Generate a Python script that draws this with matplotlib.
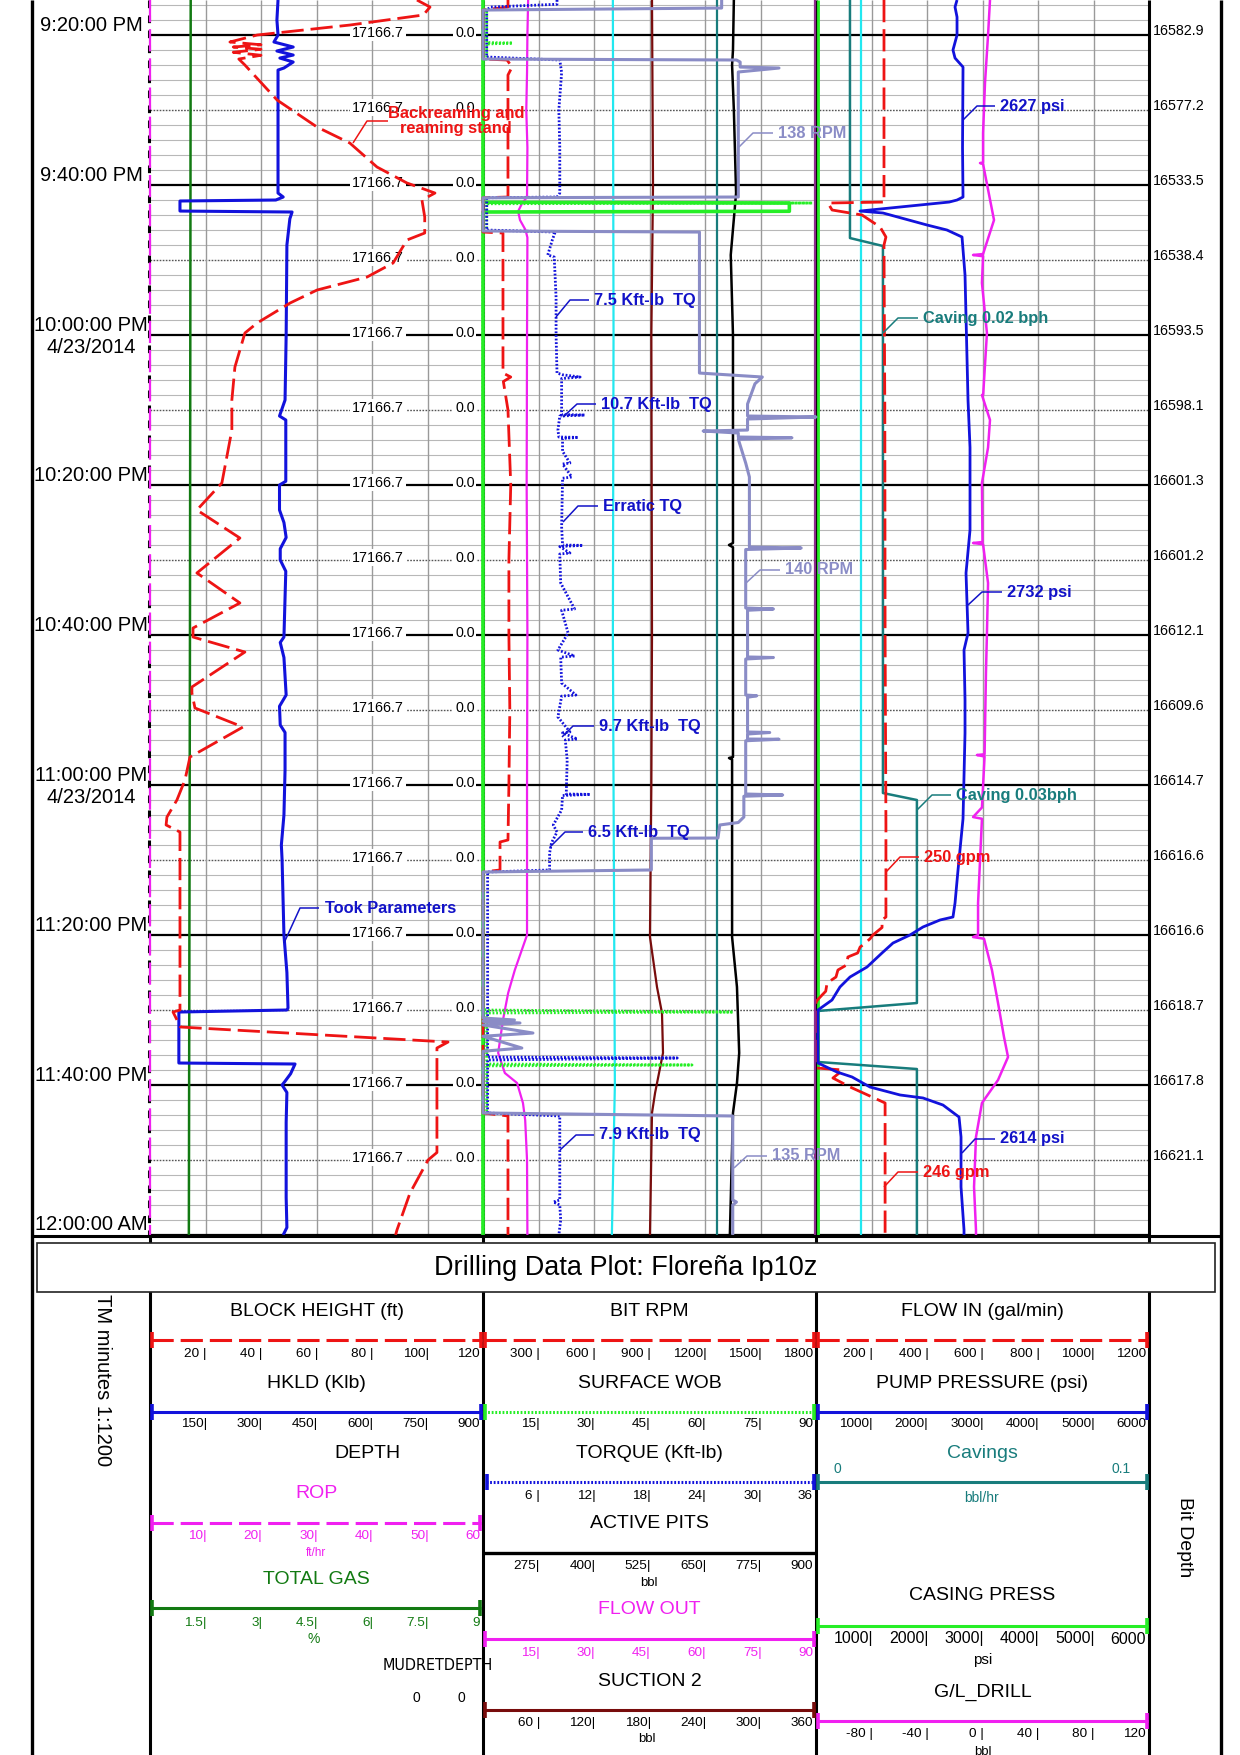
import matplotlib
matplotlib.use('Agg')
import matplotlib.pyplot as plt
from matplotlib.patches import Rectangle

plt.rcParams['font.family'] = ['Liberation Sans', 'DejaVu Sans']
plt.rcParams['lines.scale_dashes'] = False
plt.rcParams['lines.solid_capstyle'] = 'butt'

# ---------------- data: time = minutes after 9:00 PM (4/23/2014) ----------------
T_TOP, T_BOT = 15.33, 180.0

TIME_TICKS = [20, 40, 60, 80, 100, 120, 140, 160, 180]
TIME_LABELS = ['9:20:00 PM', '9:40:00 PM', '10:00:00 PM', '10:20:00 PM', '10:40:00 PM',
               '11:00:00 PM', '11:20:00 PM', '11:40:00 PM', '12:00:00 AM']
DATE_TICKS = [60, 120]
DATE_LABEL = '4/23/2014'

DEPTH_TICKS = [20, 30, 40, 50, 60, 70, 80, 90, 100, 110, 120, 130, 140, 150, 160, 170]
DEPTH_VALUES = ['17166.7'] * 16
MUDRET_VALUES = ['0.0'] * 16
BIT_DEPTH = ['16582.9', '16577.2', '16533.5', '16538.4', '16593.5', '16598.1', '16601.3', '16601.2',
             '16612.1', '16609.6', '16614.7', '16616.6', '16616.6', '16618.7', '16617.8', '16621.1']

# Track 1
HKLD_KLB = [(15.33, 346), (18.0, 343), (20.0, 346), (20.93, 335), (21.6, 387), (22.13, 343), (22.67, 387),
            (23.07, 351), (23.6, 387), (24.4, 362), (24.67, 346), (33.0, 346), (41.07, 346), (41.6, 360),
            (42.0, 340), (42.13, 81), (43.47, 81), (43.6, 384), (44.5, 378), (48.0, 370), (60.0, 368),
            (68.67, 365), (70.8, 350), (71.33, 367), (79.5, 367), (80.0, 350), (83.33, 350), (85.0, 362),
            (87.0, 368), (88.5, 352), (90.0, 352), (91.5, 367), (95.0, 365), (100.27, 362), (101.0, 352),
            (103.0, 362), (108.0, 368), (109.5, 350), (112.0, 352), (113.0, 365), (118.0, 365),
            (124.0, 362), (128.0, 355), (130.0, 357), (140.0, 362), (145.0, 370), (149.73, 373),
            (150.0, 370), (150.27, 78), (157.07, 78), (157.2, 392), (158.5, 380), (159.5, 365),
            (160.0, 357), (161.0, 370), (165.0, 368), (175.0, 368), (179.0, 370), (180.0, 360)]
BLOCK_HEIGHT_FT = [(15.33, 96.2), (16.27, 100.9), (17.33, 98.5), (18.67, 72), (20.0, 38.6), (20.93, 28.8),
                   (21.3, 40), (21.6, 30), (21.9, 40), (22.3, 30), (22.7, 40), (23.2, 32), (24.0, 34.2),
                   (28.67, 45.8), (32.27, 60.2), (34.4, 72), (37.6, 81.8), (39.73, 92.6), (41.07, 102.7),
                   (42.0, 98), (44.27, 99), (46.4, 99), (47.33, 92.6), (50.4, 87.6), (52.27, 78.2),
                   (54.0, 60.2), (55.73, 50.5), (58.4, 38.6), (59.73, 34.2), (64.27, 30.6), (68.67, 29.5),
                   (72.67, 29.5), (79.73, 25.9), (83.33, 16.9), (87.07, 32.4), (91.73, 16.9), (95.73, 32.4),
                   (99.07, 15.5), (100.27, 15.5), (102.27, 34.2), (106.93, 15.1), (107.73, 15.1),
                   (109.73, 16.2), (112.27, 33.5), (116.27, 14.4), (119.33, 12.6), (122.0, 9.7),
                   (124.27, 6.1), (125.33, 5.8), (126.27, 10.8), (150.0, 10.8), (150.27, 8.3),
                   (152.27, 11.0), (154.27, 107.4), (155.07, 103.4), (169.0, 103.4), (170.0, 100.2),
                   (174.4, 93.7), (179.33, 89.0), (180.0, 88.5)]
ROP_FTHR = [(15.33, 0.0), (180.0, 0.0)]
TOTAL_GAS_PCT = [(15.33, 1.10), (100.0, 1.08), (180.0, 1.05)]

# Track 2
BIT_RPM = [(15.33, 135), (16.27, 135), (16.67, 0), (23.2, 0), (23.33, 130), (24.27, 157), (25.33, 135),
           (41.6, 135), (41.7, 0), (46.27, 0), (46.4, 108), (65.07, 108), (65.6, 150), (66.2, 110),
           (70.0, 135), (80.0, 150), (90.0, 140), (100.0, 140), (110.0, 145), (120.0, 140), (127.33, 135),
           (127.6, 92), (131.33, 92), (131.6, 0), (163.73, 0), (164.13, 135), (180.0, 135)]
SURFACE_RPM = [(15.33, 129), (16.4, 129), (16.67, 0), (23.2, 0), (23.33, 137), (23.6, 139), (24.27, 139),
               (24.4, 160), (24.93, 138), (41.6, 138), (41.7, 0), (46.13, 0), (46.27, 117), (65.07, 117),
               (65.6, 151), (66.5, 147), (69.2, 143), (70.8, 143), (70.93, 180), (71.2, 143), (72.67, 143),
               (72.8, 119), (73.07, 138), (73.6, 138), (73.7, 167), (73.9, 138), (77.07, 142), (78.93, 144),
               (88.27, 144), (88.4, 172), (88.6, 142), (96.4, 142), (96.53, 157), (96.7, 143),
               (102.93, 143), (103.0, 157), (103.2, 142), (108.0, 142), (108.1, 148), (108.3, 143),
               (112.93, 143), (113.0, 155), (113.2, 143), (113.87, 143), (113.9, 160), (114.1, 142),
               (121.2, 142), (121.33, 162), (121.5, 141), (124.27, 141), (125.0, 138), (125.33, 128),
               (127.07, 127), (127.1, 91), (131.33, 91), (131.6, 0), (151.07, 0), (151.33, 17),
               (151.5, 0), (151.73, 20), (152.0, 0), (153.07, 27), (153.5, 0), (155.07, 21), (155.5, 0),
               (163.73, 0), (164.13, 135), (175.33, 135), (175.6, 137), (176.0, 135), (180.0, 135)]
TORQUE_KFTLB = [(15.33, 8.0), (15.9, 8.0), (16.27, 0.8), (16.67, 0.4), (22.93, 0.4), (23.33, 8.3),
                (25.0, 8.5), (30.0, 8.2), (35.0, 8.3), (41.07, 8.3), (41.6, 8.0), (41.7, 0.4), (46.0, 0.4),
                (46.27, 7.8), (47.3, 7.5), (49.33, 7.0), (49.6, 7.7), (55.0, 7.9), (60.0, 7.9),
                (65.07, 8.0), (65.3, 8.6), (65.6, 10.5), (65.8, 8.5), (70.6, 8.5), (70.67, 11.0),
                (70.8, 8.3), (72.67, 8.1), (73.6, 8.2), (73.65, 10.3), (73.8, 8.6), (75.5, 8.6),
                (77.07, 9.4), (77.2, 8.6), (78.93, 9.6), (79.1, 8.6), (85.6, 8.5), (88.0, 8.6),
                (88.05, 10.8), (88.2, 8.3), (89.07, 9.4), (89.2, 8.3), (93.07, 8.4), (96.53, 9.9),
                (96.7, 8.5), (99.73, 9.2), (102.0, 8.1), (102.8, 9.9), (102.95, 8.4), (106.4, 8.5),
                (108.0, 10.05), (108.15, 8.5), (110.93, 8.1), (112.93, 9.4), (113.05, 8.6), (113.87, 10.2),
                (114.0, 8.9), (116.67, 9.1), (121.2, 9.0), (121.25, 11.6), (121.4, 8.6), (123.33, 8.5),
                (125.33, 7.6), (126.27, 8.0), (127.73, 7.4), (129.07, 7.2), (131.33, 7.2), (131.6, 0.5),
                (156.27, 0.5), (156.4, 21.0), (156.67, 0.5), (163.73, 0.5), (164.13, 8.3), (175.33, 8.3),
                (175.6, 7.6), (176.0, 8.3), (178.0, 8.4), (180.0, 8.2)]
SURFACE_WOB = [(15.33, 0), (16.5, 0), (16.67, 1), (21.0, 1), (21.07, 8), (21.2, 1), (23.2, 1), (23.33, 0),
               (41.6, 0), (41.7, 1), (42.33, 1), (42.4, 89), (42.5, 1), (46.2, 1), (46.3, 0),
               (149.9, 0), (150.0, 1), (150.27, 67.6), (150.4, 1), (157.2, 1), (157.33, 56.5),
               (157.45, 1), (163.73, 1), (164.0, 0), (180.0, 0)]
GREEN_SOLID_PCT = [(15.33, 0), (42.3, 0), (42.4, 92), (43.5, 92), (43.6, 0), (180.0, 0)]
FLOW_OUT = [(15.33, 12.2), (20.0, 12.0), (25.0, 11.9), (30.0, 11.7), (35.0, 12.0), (41.6, 11.9),
            (42.5, 10.5), (43.5, 9.5), (44.67, 10.0), (46.0, 11.5), (47.0, 12.0), (60.0, 11.9),
            (80.0, 11.8), (100.0, 12.0), (120.0, 11.9), (140.0, 11.9), (144.67, 8.6), (147.73, 6.8),
            (151.33, 5.4), (155.73, 4.1), (158.4, 5.9), (159.73, 9.2), (162.4, 10.8), (164.67, 11.4),
            (170.0, 11.9), (180.0, 12.0)]
CYAN2_PCT = [(15.33, 39.0), (60.0, 39.2), (100.0, 39.0), (140.0, 39.4), (160.0, 39.6), (180.0, 38.7)]
SUCTION2_BBL = [(15.33, 182.7), (40.0, 183.8), (60.0, 182.0), (100.0, 182.7), (120.0, 182.0),
                (140.27, 180.5), (146.93, 188.1), (150.4, 193.5), (155.73, 194.6), (158.4, 190.3),
                (161.07, 186.0), (163.73, 182.7), (180.0, 180.5)]
TEAL2_PCT = [(15.33, 70.3), (180.0, 70.3)]
ACTIVE_PITS_BBL = [(15.33, 715), (22.0, 713), (24.0, 711), (30.0, 715), (41.07, 720), (49.33, 708),
                   (60.0, 713), (87.73, 713), (88.0, 704), (88.3, 713), (116.27, 713), (116.4, 704),
                   (116.6, 711), (140.27, 711), (146.93, 722), (155.73, 727), (159.73, 722), (163.73, 713),
                   (180.0, 706)]
PURPLE2_PCT = [(15.33, 99.6), (180.0, 99.6)]

# Track 3
CASING_PRESS = [(15.33, 40), (180.0, 40)]
CYAN3_PCT = [(15.33, 13.5), (180.0, 13.5)]
CAVINGS_BPH = [(15.33, 0.0102), (47.07, 0.0102), (48.13, 0.0201), (121.07, 0.0201), (122.0, 0.0303),
               (149.07, 0.0303), (150.13, 0.0006), (156.93, 0.0006), (157.87, 0.0303), (180.0, 0.0303)]
FLOW_IN_GPM = [(15.33, 245), (42.0, 245), (42.27, 248), (42.4, 43), (43.33, 58), (44.0, 166), (45.6, 231),
               (46.93, 252), (48.0, 245), (70.0, 248), (100.0, 249), (125.33, 252), (137.6, 252),
               (138.0, 238), (139.0, 238), (140.0, 205), (140.5, 195), (141.3, 170), (141.6, 159),
               (142.4, 150), (142.93, 115), (144.0, 110), (144.67, 79), (145.6, 72), (146.4, 40),
               (147.5, 35), (148.0, 22), (148.67, 5), (149.0, 0), (157.73, 0), (158.0, 97),
               (159.07, 61), (160.27, 123), (161.6, 202), (162.4, 249), (180.0, 249)]
PUMP_PRESS_PSI = [(15.33, 2541), (16.27, 2505), (17.6, 2541), (20.0, 2541), (22.0, 2468), (23.07, 2505),
                  (24.27, 2649), (35.0, 2640), (41.6, 2649), (42.0, 2541), (42.27, 2400), (43.47, 793),
                  (43.73, 1207), (45.33, 2000), (46.0, 2360), (46.93, 2631), (52.0, 2685), (68.67, 2739),
                  (75.0, 2775), (86.0, 2775), (91.73, 2703), (99.73, 2739), (102.0, 2667), (108.67, 2685),
                  (113.07, 2685), (124.5, 2649), (131.33, 2559), (135.73, 2505), (137.6, 2468),
                  (138.0, 2234), (138.93, 1928), (140.0, 1694), (141.07, 1387), (142.4, 1189),
                  (144.27, 919), (145.6, 613), (146.93, 432), (148.67, 288), (150.0, 36), (157.07, 36),
                  (158.27, 378), (158.93, 649), (160.27, 973), (161.33, 1514), (161.73, 1928),
                  (162.67, 2288), (164.27, 2577), (166.93, 2613), (173.6, 2613), (179.33, 2667),
                  (180.0, 2667)]
GL_DRILL_BBL = [(15.33, 5.4), (20.0, 4.0), (26.4, 1.8), (33.07, 0.4), (37.0, 0.4), (37.07, -1.8),
                (37.2, 0.4), (44.67, 8.3), (49.2, 0.4), (49.33, -6.8), (49.5, 0.4), (53.07, -0.4),
                (59.73, 3.2), (67.9, 0.5), (68.0, -0.4), (71.33, 5.4), (75.0, 4.0), (79.73, -0.4),
                (87.6, 0.0), (87.73, -6.8), (87.9, 0.4), (93.07, 4.0), (99.73, 3.2), (105.0, 2.5),
                (115.9, 1.5), (116.0, -4.0), (116.2, 1.5), (123.0, -0.4), (124.27, -6.8), (124.5, -0.4),
                (135.73, -3.2), (140.0, -3.2), (140.27, -6.8), (140.5, 1.1), (144.67, 6.8), (149.07, 11.2),
                (153.6, 15.5), (156.27, 18.4), (159.33, 11.2), (162.4, -0.4), (166.93, -4.7),
                (173.6, -6.1), (179.33, -4.7), (180.0, -4.7)]

# Legend scale tick labels
TK_BLOCK = ['20 |', '40 |', '60 |', '80 |', '100|', '120']
TK_HKLD = ['150|', '300|', '450|', '600|', '750|', '900']
TK_ROP = ['10|', '20|', '30|', '40|', '50|', '60']
TK_GAS = ['1.5|', '3|', '4.5|', '6|', '7.5|', '9']
TK_BITRPM = ['300 |', '600 |', '900 |', '1200|', '1500|', '1800']
TK_WOB = ['15|', '30|', '45|', '60|', '75|', '90']
TK_TQ = ['6 |', '12|', '18|', '24|', '30|', '36']
TK_PITS = ['275|', '400|', '525|', '650|', '775|', '900']
TK_FLOWOUT = ['15|', '30|', '45|', '60|', '75|', '90']
TK_SUCTION = ['60 |', '120|', '180|', '240|', '300|', '360']
TK_FLOWIN = ['200 |', '400 |', '600 |', '800 |', '1000|', '1200']
TK_PUMP = ['1000|', '2000|', '3000|', '4000|', '5000|', '6000']
TK_CASING = ['1000|', '2000|', '3000|', '4000|', '5000|', '6000']
TK_GL = ['-80 |', '-40 |', '0 |', '40 |', '80 |', '120']

TITLE = 'Drilling Data Plot: Floreña Ip10z'

# ---------------- styling ----------------
RED = '#ee1414'
BLUE = '#1212dc'
BLUETXT = '#1212c8'
DKGREEN = '#127a12'
MAGENTA = '#f020f0'
LAV = '#8a8cc6'
CYAN = '#22e8f0'
DKRED = '#780c0c'
TEAL = '#187c7c'
LIME = '#26ee26'
PURPLE = '#8c2a8c'
DASH = (0, (16, 5))
DOT = (0, (1.3, 1.3))

W, H = 1240, 1755
Y_BOT = 1235
TRACKS = [(150, 483), (483, 816), (816, 1149)]

fig = plt.figure(figsize=(12.4, 17.55), dpi=100)


def rect(l, r, top, bot):
    return [l / W, 1 - bot / H, (r - l) / W, (bot - top) / H]


# grid axes (pixel x, time y)
axg = fig.add_axes(rect(150, 1149, 0, Y_BOT))
axg.set_xlim(150, 1149)
axg.set_ylim(T_BOT, T_TOP)
axg.axis('off')
axg.set_zorder(1)

for t in range(16, 180, 2):
    if t % 10:
        axg.plot([150, 1149], [t, t], color='#b8b8b8', lw=0.8, zorder=1)
for t in range(30, 180, 20):
    axg.plot([150, 1149], [t, t], color='#555555', lw=1.0, ls=(0, (1.2, 1.0)), zorder=1)
for t in TIME_TICKS:
    axg.plot([150, 1149], [t, t], color='black', lw=1.6, zorder=2)
for (l, r) in TRACKS:
    for k in range(1, 6):
        x = l + k * (r - l) / 6
        axg.plot([x, x], [T_TOP, T_BOT], color='#9a9a9a', lw=1.0, zorder=1)
axg.plot([149, 149], [T_TOP, T_BOT], color='black', lw=2.2, ls=(0, (5.5, 5.3)), zorder=2, clip_on=False)
for x in (483, 816, 1149):
    axg.plot([x, x], [T_TOP, T_BOT], color='black', lw=2.2, zorder=2, clip_on=False)

for t, lab in zip(TIME_TICKS, TIME_LABELS):
    axg.annotate(lab, xy=(91, t), xytext=(0, 10), textcoords='offset pixels', ha='center', va='center',
                 fontsize=14.5, annotation_clip=False)
for t in DATE_TICKS:
    axg.annotate(DATE_LABEL, xy=(91, t), xytext=(0, -12), textcoords='offset pixels', ha='center',
                 va='center', fontsize=14.5, annotation_clip=False)
wbox = dict(boxstyle='square,pad=0.12', fc='white', ec='none')
for t, d, m, b in zip(DEPTH_TICKS, DEPTH_VALUES, MUDRET_VALUES, BIT_DEPTH):
    axg.annotate(d, xy=(352, t), xytext=(0, -1.5), textcoords='offset pixels', ha='left', va='baseline',
                 fontsize=10.3, bbox=wbox, zorder=5)
    axg.annotate(m, xy=(455, t), xytext=(0, -1.5), textcoords='offset pixels', ha='left', va='baseline',
                 fontsize=10.3, bbox=wbox, zorder=5)
    axg.annotate(b, xy=(1153, t), xytext=(0, 4), textcoords='offset pixels', ha='left', va='center',
                 fontsize=10.3, annotation_clip=False)

zc = [3]


def curve(track, lo, hi, series, **kw):
    l, r = TRACKS[track]
    ax = fig.add_axes(rect(l, r, 0, Y_BOT))
    ax.set_xlim(lo, hi)
    ax.set_ylim(T_BOT, T_TOP)
    ax.axis('off')
    ax.patch.set_visible(False)
    ax.set_zorder(zc[0])
    zc[0] += 1
    t = [p[0] for p in series]
    v = [p[1] for p in series]
    ax.plot(v, t, clip_on=False, **kw)


# track 3
curve(2, 0, 100, CYAN3_PCT, color=CYAN, lw=1.6)
curve(2, 0, 6000, CASING_PRESS, color=LIME, lw=2.0)
curve(2, -120, 120, GL_DRILL_BBL, color=MAGENTA, lw=1.8)
curve(2, 0, 0.1, CAVINGS_BPH, color=TEAL, lw=1.8)
curve(2, 0, 1200, FLOW_IN_GPM, color=RED, lw=2.0, ls=DASH)
curve(2, 0, 6000, PUMP_PRESS_PSI, color=BLUE, lw=2.0)
# track 2
curve(1, 0, 100, PURPLE2_PCT, color=PURPLE, lw=1.6)
curve(1, 0, 100, CYAN2_PCT, color=CYAN, lw=1.6)
curve(1, 0, 100, TEAL2_PCT, color=TEAL, lw=1.6)
curve(1, 0, 360, SUCTION2_BBL, color=DKRED, lw=1.6)
curve(1, 150, 900, ACTIVE_PITS_BBL, color='black', lw=1.8)
curve(1, 0, 90, FLOW_OUT, color=MAGENTA, lw=1.6)
curve(1, 0, 100, GREEN_SOLID_PCT, color=LIME, lw=2.6)
curve(1, 0, 90, SURFACE_WOB, color=LIME, lw=2.0, ls=DOT)
curve(1, 0, 1800, BIT_RPM, color=RED, lw=2.0, ls=DASH)
curve(1, 0, 36, TORQUE_KFTLB, color=BLUE, lw=2.0, ls=DOT)
curve(1, 0, 180, SURFACE_RPM, color=LAV, lw=2.2)
# track 1
curve(0, 0, 9, TOTAL_GAS_PCT, color=DKGREEN, lw=1.8)
curve(0, 0, 900, HKLD_KLB, color=BLUE, lw=2.2)
curve(0, 0, 120, BLOCK_HEIGHT_FT, color=RED, lw=2.0, ls=DASH)
curve(0, 0, 60, ROP_FTHR, color=MAGENTA, lw=1.6, ls=DASH)

# ---------------- annotations & legend (pixel coordinates) ----------------
axa = fig.add_axes([0, 0, 1, 1])
axa.set_xlim(0, W)
axa.set_ylim(H, 0)
axa.axis('off')
axa.patch.set_visible(False)
axa.set_zorder(50)

ANNOTATIONS = [
    ('Backreaming and\nreaming stand', RED, 456, 121, [(353, 143), (367, 121), (388, 121)], 'center'),
    ('Took Parameters', BLUETXT, 325, 908, [(284, 943), (300, 908), (319, 908)], 'left'),
    ('7.5 Kft-lb  TQ', BLUETXT, 594, 300, [(556, 317), (570, 300), (589, 300)], 'left'),
    ('10.7 Kft-lb  TQ', BLUETXT, 601, 404, [(563, 417), (577, 404), (596, 404)], 'left'),
    ('Erratic TQ', BLUETXT, 603, 506, [(563, 522), (578, 506), (598, 506)], 'left'),
    ('9.7 Kft-lb  TQ', BLUETXT, 599, 726, [(562, 737), (573, 726), (594, 726)], 'left'),
    ('6.5 Kft-lb  TQ', BLUETXT, 588, 832, [(550, 847), (565, 832), (583, 832)], 'left'),
    ('7.9 Kft-lb  TQ', BLUETXT, 599, 1135, [(560, 1150), (576, 1135), (594, 1135)], 'left'),
    ('138 RPM', LAV, 778, 133, [(739, 147), (753, 133), (773, 133)], 'left'),
    ('140 RPM', LAV, 785, 570, [(746, 583), (760, 570), (780, 570)], 'left'),
    ('135 RPM', LAV, 772, 1156, [(734, 1168), (747, 1156), (767, 1156)], 'left'),
    ('2627 psi', BLUETXT, 1000, 106, [(963, 120), (977, 106), (995, 106)], 'left'),
    ('2732 psi', BLUETXT, 1007, 592, [(968, 605), (982, 592), (1002, 592)], 'left'),
    ('2614 psi', BLUETXT, 1000, 1139, [(962, 1153), (975, 1139), (995, 1139)], 'left'),
    ('Caving 0.02 bph', TEAL, 923, 318, [(883, 333), (898, 318), (918, 318)], 'left'),
    ('Caving 0.03bph', TEAL, 956, 795, [(917, 810), (932, 795), (951, 795)], 'left'),
    ('250 gpm', RED, 924, 857, [(886, 872), (900, 857), (919, 857)], 'left'),
    ('246 gpm', RED, 923, 1172, [(884, 1187), (898, 1172), (918, 1172)], 'left'),
]
for txt, col, x, y, pts, ha in ANNOTATIONS:
    axa.plot([p[0] for p in pts], [p[1] for p in pts], color=col, lw=1.1)
    axa.text(x, y, txt, color=col, fontsize=11.8, fontweight='bold', ha=ha, va='center',
             multialignment='center', linespacing=1.05)

# frame
axa.plot([32, 32], [0, H], color='black', lw=2.4)
axa.plot([1221, 1221], [0, H], color='black', lw=2.4)
axa.plot([32, 1221], [1236, 1236], color='black', lw=2.2)
for x in (150, 483, 816, 1149):
    axa.plot([x, x], [1236, H], color='black', lw=2.2, zorder=1)
axa.add_patch(Rectangle((37, 1243), 1178, 49, fc='white', ec='#222222', lw=1.2, zorder=3))
axa.text(626, 1268, TITLE, fontsize=19.5, ha='center', va='center', zorder=4)
axa.text(102, 1380, 'TM minutes 1:1200', fontsize=14.5, rotation=270, ha='center', va='center')
axa.text(1185, 1537, 'Bit Depth', fontsize=14, rotation=270, ha='center', va='center')


def header(track, y, txt, color='black', x=None, fs=14):
    l, r = TRACKS[track]
    axa.text((l + r) / 2 if x is None else x, y, txt, color=color, fontsize=fs, ha='center', va='center')


def leg_line(track, y, color, ls='-', lw=2.2, x0=None, x1=None):
    l, r = TRACKS[track]
    a = l + 1 if x0 is None else x0
    b = r - 1 if x1 is None else x1
    axa.plot([a, b], [y, y], color=color, ls=ls, lw=lw, zorder=2)
    for x in (a + 1, b - 1):
        axa.plot([x, x], [y - 8, y + 8], color=color, lw=2.6, zorder=2)


def tick_row(track, y, labels, color='black', fs=9.7):
    l, r = TRACKS[track]
    for k, lab in enumerate(labels, start=1):
        x = l + k * (r - l) / 6
        xx = x + 1.5 if k < 6 else x - 3
        axa.text(xx, y, lab, color=color, fontsize=fs, ha='right', va='center')


# track 1 legend
header(0, 1311, 'BLOCK HEIGHT (ft)')
leg_line(0, 1340, RED, ls=DASH)
tick_row(0, 1354, TK_BLOCK)
header(0, 1383, 'HKLD (Klb)')
leg_line(0, 1412, BLUE)
tick_row(0, 1424, TK_HKLD)
header(0, 1453, 'DEPTH', x=367)
header(0, 1493, 'ROP', color=MAGENTA)
leg_line(0, 1523, MAGENTA, ls=DASH, x1=481)
tick_row(0, 1536, TK_ROP, color=MAGENTA)
axa.text(316, 1553, 'ft/hr', color=MAGENTA, fontsize=8.5, ha='center', va='center')
header(0, 1579, 'TOTAL GAS', color=DKGREEN)
leg_line(0, 1608, DKGREEN, x1=481)
tick_row(0, 1623, TK_GAS, color=DKGREEN)
axa.text(314, 1639, '%', color=DKGREEN, fontsize=10, ha='center', va='center')
axa.text(438, 1666, 'MUDRETDEPTH', fontsize=11.5, ha='center', va='center',
         family='DejaVu Sans', fontstretch='condensed')
axa.text(416, 1698, '0', fontsize=10, ha='center', va='center')
axa.text(461, 1698, '0', fontsize=10, ha='center', va='center')

# track 2 legend
header(1, 1311, 'BIT RPM')
leg_line(1, 1340, RED, ls=DASH)
tick_row(1, 1354, TK_BITRPM)
header(1, 1383, 'SURFACE WOB')
leg_line(1, 1412, LIME, ls=DOT)
tick_row(1, 1424, TK_WOB)
header(1, 1453, 'TORQUE (Kft-lb)')
leg_line(1, 1482, BLUE, ls=DOT, x0=486)
tick_row(1, 1496, TK_TQ)
header(1, 1523, 'ACTIVE PITS')
axa.plot([483, 816], [1553, 1553], color='black', lw=2.4)
tick_row(1, 1566, TK_PITS)
axa.text(649, 1583, 'bbl', fontsize=9.5, ha='center', va='center')
header(1, 1610, 'FLOW OUT', color=MAGENTA)
leg_line(1, 1639, MAGENTA)
tick_row(1, 1653, TK_FLOWOUT, color=MAGENTA)
header(1, 1682, 'SUCTION 2')
leg_line(1, 1710, DKRED)
tick_row(1, 1723, TK_SUCTION)
axa.text(647, 1739, 'bbl', fontsize=9.5, ha='center', va='center')

# track 3 legend
header(2, 1311, 'FLOW IN (gal/min)')
leg_line(2, 1340, RED, ls=DASH)
tick_row(2, 1354, TK_FLOWIN)
header(2, 1383, 'PUMP PRESSURE (psi)')
leg_line(2, 1412, BLUE)
tick_row(2, 1424, TK_PUMP)
header(2, 1453, 'Cavings', color=TEAL)
axa.text(837, 1469, '0', color=TEAL, fontsize=10, ha='center', va='center')
axa.text(1121, 1469, '0.1', color=TEAL, fontsize=10, ha='center', va='center')
leg_line(2, 1482, TEAL)
axa.text(982, 1498, 'bbl/hr', color=TEAL, fontsize=10, ha='center', va='center')
header(2, 1596, 'CASING PRESS')
leg_line(2, 1626, LIME)
tick_row(2, 1639, TK_CASING, fs=11.5)
axa.text(983, 1660, 'psi', fontsize=11, ha='center', va='center')
header(2, 1692, 'G/L_DRILL')
leg_line(2, 1721, MAGENTA)
tick_row(2, 1734, TK_GL)
axa.text(983, 1752, 'bbl', fontsize=9.5, ha='center', va='center')

fig.savefig('out.png', dpi=100)
